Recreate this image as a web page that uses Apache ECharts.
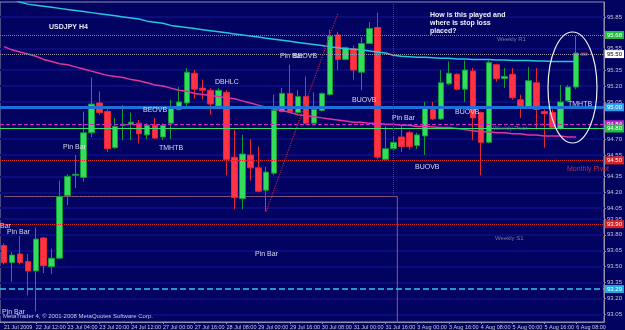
<!DOCTYPE html>
<html><head><meta charset="utf-8">
<script src="https://cdn.jsdelivr.net/npm/echarts@6/dist/echarts.min.js"></script>
<style>html,body{margin:0;padding:0;background:#020260;}#c{width:625px;height:330px;}</style>
</head><body><div id="c"></div>
<script>
const categories = [
"21 Jul 2009","22 Jul 00:00","22 Jul 04:00","22 Jul 08:00",
"22 Jul 12:00","22 Jul 16:00","22 Jul 20:00","23 Jul 00:00",
"23 Jul 04:00","23 Jul 08:00","23 Jul 12:00","23 Jul 16:00",
"23 Jul 20:00","24 Jul 00:00","24 Jul 04:00","24 Jul 08:00",
"24 Jul 12:00","24 Jul 16:00","24 Jul 20:00","26 Jul 20:00",
"27 Jul 00:00","27 Jul 04:00","27 Jul 08:00","27 Jul 12:00",
"27 Jul 16:00","27 Jul 20:00","28 Jul 00:00","28 Jul 04:00",
"28 Jul 08:00","28 Jul 12:00","28 Jul 16:00","28 Jul 20:00",
"29 Jul 00:00","29 Jul 04:00","29 Jul 08:00","29 Jul 12:00",
"29 Jul 16:00","29 Jul 20:00","30 Jul 00:00","30 Jul 04:00",
"30 Jul 08:00","30 Jul 12:00","30 Jul 16:00","30 Jul 20:00",
"31 Jul 00:00","31 Jul 04:00","31 Jul 08:00","31 Jul 12:00",
"31 Jul 16:00","31 Jul 20:00","2 Aug 16:00","2 Aug 20:00",
"3 Aug 00:00","3 Aug 04:00","3 Aug 08:00","3 Aug 12:00",
"3 Aug 16:00","3 Aug 20:00","4 Aug 00:00","4 Aug 04:00",
"4 Aug 08:00","4 Aug 12:00","4 Aug 16:00","4 Aug 20:00",
"5 Aug 00:00","5 Aug 04:00","5 Aug 08:00","5 Aug 12:00",
"5 Aug 16:00","5 Aug 20:00","6 Aug 00:00","6 Aug 04:00",
"6 Aug 08:00","6 Aug 12:00","6 Aug 16:00","6 Aug 20:00"];

const opens  = [93.70,93.54,93.62,93.55,93.46,93.77,93.50,93.58,94.17,94.36,94.34,94.76,95.04,94.96,94.62,94.83,94.84,94.85,94.74,94.83,94.72,94.85,94.98,95.04,95.32,95.18,95.16,95.01,95.14,94.53,94.14,94.55,94.43,94.22,94.38,94.96,95.13,94.95,95.10,94.85,94.97,95.12,95.68,95.45,95.55,95.33,95.60,95.75,94.51,94.61,94.72,94.76,94.64,94.73,94.98,94.89,95.22,95.31,95.17,95.34,94.95,94.67,95.40,95.27,95.31,95.07,95.00,95.23,94.96,94.95,94.80,95.06,95.19];
const closes = [93.54,93.61,93.54,93.46,93.76,93.51,93.58,94.16,94.35,94.37,94.76,95.03,94.95,94.61,94.82,94.84,94.86,94.75,94.83,94.71,94.83,94.99,95.05,95.33,95.17,95.16,95.03,95.16,94.51,94.15,94.56,94.43,94.21,94.39,94.97,95.13,94.96,95.10,94.85,94.98,95.13,95.67,95.45,95.56,95.35,95.60,95.74,94.53,94.61,94.67,94.63,94.63,94.74,95.00,94.89,95.23,95.32,95.17,95.35,94.90,94.67,95.42,95.27,95.29,95.09,95.00,95.25,94.98,94.94,94.81,95.05,95.19,95.51];
const lows   = [93.52,93.36,93.52,93.23,93.08,93.44,93.43,93.57,94.08,94.24,94.30,94.72,94.93,94.58,94.61,94.69,94.69,94.66,94.70,94.70,94.69,94.70,94.97,95.00,95.08,95.07,94.93,94.99,94.36,94.04,94.04,94.31,94.20,94.02,94.36,94.95,94.95,94.94,94.84,94.84,94.96,95.11,95.35,95.44,95.26,95.16,95.60,94.51,94.50,94.60,94.58,94.60,94.61,94.55,94.88,94.88,95.21,95.16,95.05,94.69,94.36,94.66,95.24,95.18,95.07,94.90,94.99,94.79,94.62,94.80,94.79,95.05,95.17];
const highs  = [93.72,93.64,93.79,93.62,93.87,93.78,93.67,94.31,94.37,94.55,94.96,95.28,95.15,94.98,94.90,95.02,94.95,94.88,94.85,94.90,94.85,95.07,95.19,95.37,95.35,95.26,95.18,95.18,95.16,94.79,94.74,94.70,94.63,94.44,95.12,95.18,95.40,95.16,95.29,95.14,95.14,95.73,95.71,95.57,95.58,95.66,95.80,95.89,94.82,94.72,94.83,94.78,94.76,95.05,95.05,95.35,95.43,95.32,95.44,95.37,94.96,95.44,95.41,95.37,95.37,95.12,95.38,95.37,94.98,94.98,95.21,95.21,95.67];

const maCyan = [96.05,96.02,95.99,95.97,95.96,95.95,95.94,95.93,95.92,95.91,95.90,95.89,95.88,95.87,95.86,95.85,95.84,95.83,95.81,95.80,95.79,95.77,95.76,95.75,95.74,95.73,95.72,95.71,95.70,95.69,95.68,95.67,95.66,95.65,95.64,95.63,95.62,95.61,95.60,95.59,95.58,95.57,95.56,95.55,95.545,95.54,95.53,95.52,95.51,95.49,95.48,95.475,95.47,95.47,95.465,95.46,95.46,95.455,95.455,95.45,95.45,95.45,95.445,95.445,95.44,95.44,95.44,95.435,95.435,95.43,95.43,95.43,95.43];
const maPink = [95.57,95.54,95.52,95.50,95.48,95.45,95.43,95.41,95.40,95.38,95.36,95.34,95.32,95.30,95.29,95.28,95.26,95.25,95.23,95.21,95.20,95.18,95.16,95.15,95.13,95.12,95.11,95.10,95.09,95.08,95.06,95.04,95.02,95.00,94.98,94.97,94.95,94.93,94.92,94.91,94.90,94.89,94.88,94.87,94.86,94.86,94.85,94.85,94.84,94.84,94.83,94.83,94.82,94.82,94.815,94.81,94.81,94.80,94.79,94.78,94.77,94.77,94.76,94.76,94.75,94.75,94.74,94.74,94.73,94.73,94.73,94.72,94.72];
const stepLevel = [94.16,94.16,94.16,94.16,94.16,94.16,94.16,94.16,94.16,94.16,94.16,94.16,94.16,94.16,94.16,94.16,94.16,94.16,94.16,94.16,94.16,94.16,94.16,94.16,94.16,94.16,94.16,94.16,94.16,94.16,94.16,94.16,94.16,94.16,94.16,94.16,94.16,94.16,94.16,94.16,94.16,94.16,94.16,94.16,94.16,94.16,94.16,94.16,94.16,94.16,92.50];
const askMarker = [[73, 95.50]];

const yTickLabels = [93.05,93.20,93.35,93.50,93.65,93.80,93.95,94.05,94.20,94.35,94.55,94.70,95.05,95.20,95.35,95.55,95.85];
const levelValues = [95.68, 95.50, 95.00, 94.84, 94.80, 94.50, 93.90, 93.29];
const trendLine = [[33, 94.02], [42, 95.88]];
const weekSeparator = [[49, 95.99], [49, 94.16]];

const levelStyles = [
  {color:'#8a8aa8', type:'dotted', width:1, box:'#22c040', text:'#ffffff'},
  {color:'#9a9ab0', type:'dotted', width:1, box:'#ffffff', text:'#000000'},
  {color:'#1f6fd8', type:'solid',  width:3, box:'#2aa0f0', text:'#ffffff'},
  {color:'#d020d0', type:'dashed', width:1, box:'#c020d0', text:'#ffffff'},
  {color:'#30e070', type:'solid',  width:1, box:'#22c040', text:'#ffffff'},
  {color:'#e02030', type:'dotted', width:1, box:'#e02020', text:'#ffffff'},
  {color:'#d02030', type:'dotted', width:1, box:'#e02020', text:'#ffffff'},
  {color:'#30c8f0', type:'dashed', width:1.5, box:'#20a8e0', text:'#ffffff'}
];

const candleData = opens.map((o, i) => [o, closes[i], lows[i], highs[i]]);
const FONT = 'Liberation Sans, Arial, sans-serif';

const levelLines = levelValues.map((v, i) => ({
  yAxis: v,
  lineStyle: {color: levelStyles[i].color, type: levelStyles[i].type, width: levelStyles[i].width},
  label: {show: true, position: 'end', distance: 1, formatter: () => v.toFixed(2),
    backgroundColor: levelStyles[i].box, color: levelStyles[i].text,
    fontSize: 6, fontFamily: FONT, padding: [1, 2, 0, 2], lineHeight: 7}
}));

const chart = echarts.init(document.getElementById('c'), null, {renderer: 'canvas'});

function txt(x, y, s, color, size, bold) {
  return {type: 'text', x: x, y: y, z: 50, silent: true,
    style: {text: s, fill: color, font: (bold ? 'bold ' : '') + size + 'px ' + FONT,
      textAlign: 'left', textVerticalAlign: 'middle'}};
}
const lbl = '#d8d8ea';

chart.setOption({
  animation: false,
  backgroundColor: '#020260',
  grid: {left: -2, right: 18, top: 2, bottom: 8, show: true, backgroundColor: '#020260', borderColor: '#9090a8', borderWidth: 1},
  xAxis: {
    type: 'category', data: categories, boundaryGap: true,
    axisLine: {lineStyle: {color: '#9090a8'}},
    axisTick: {show: true, interval: 3, length: 2, alignWithLabel: true, lineStyle: {color: '#9090a8'}},
    axisLabel: {interval: 3, align: 'left', color: '#c8c8d8', fontSize: 5.5, fontFamily: FONT, margin: 2,
      showMinLabel: true, hideOverlap: false},
    splitLine: {show: false}
  },
  yAxis: {
    type: 'value', position: 'right', min: 92.98, max: 95.99, scale: true,
    axisLine: {show: true, lineStyle: {color: '#9090a8'}},
    axisTick: {show: true, length: 2, customValues: yTickLabels, lineStyle: {color: '#9090a8'}},
    axisLabel: {customValues: yTickLabels, color: '#c8c8d8', fontSize: 6, fontFamily: FONT, margin: 3,
      formatter: v => v.toFixed(2)},
    splitLine: {show: true, lineStyle: {color: '#0c0c7c', width: 2}}
  },
  series: [
    {type: 'line', data: stepLevel, step: 'middle', symbol: 'none', z: 1,
      lineStyle: {color: '#8a5a7a', width: 1}},
    {type: 'candlestick', data: candleData, barWidth: 6, z: 2,
      itemStyle: {color: '#33dd5a', color0: '#ff3344', borderColor: '#0f9a3a', borderColor0: '#e82535', borderWidth: 1},
      markLine: {silent: true, symbol: ['none', 'none'], animation: false,
        data: levelLines.concat([
          [{coord: trendLine[0], lineStyle: {color: '#c02040', type: 'dotted', width: 1.2}, label: {show: false}},
           {coord: trendLine[1]}],
          [{coord: weekSeparator[0], lineStyle: {color: '#a02040', type: 'dotted', width: 1}, label: {show: false}},
           {coord: weekSeparator[1]}]
        ])}
    },
    {type: 'line', data: maPink, symbol: 'none', z: 3, lineStyle: {color: '#e0359a', width: 1.5}},
    {type: 'line', data: maCyan, symbol: 'none', z: 3, lineStyle: {color: '#22c8e0', width: 1.5}},
    {type: 'scatter', data: askMarker, symbol: 'rect', symbolSize: [7, 3], z: 4, itemStyle: {color: '#ff3030'}}
  ],
  graphic: [
    txt(49, 27, 'USDJPY H4', '#e8e8f4', 7, true),
    txt(430, 15.5, 'How is this played and', '#f0f0f8', 7, true),
    txt(430, 23.5, 'where is stop loss', '#f0f0f8', 7, true),
    txt(430, 31, 'placed?', '#f0f0f8', 7, true),
    txt(63, 147, 'Pin Bar', lbl, 7),
    txt(143, 110, 'BEOVB', lbl, 7),
    txt(159, 148, 'TMHTB', lbl, 7),
    txt(215, 82, 'DBHLC', lbl, 7),
    txt(280, 56, 'Pin Bar', lbl, 7),
    txt(293, 56, 'BEOVB', lbl, 7),
    txt(352, 100, 'BUOVB', lbl, 7),
    txt(392, 118, 'Pin Bar', lbl, 7),
    txt(455, 112, 'BUOVB', lbl, 7),
    txt(415, 167, 'BUOVB', lbl, 7),
    txt(568, 104, 'TMHTB', lbl, 7),
    txt(0, 226, 'Bar', lbl, 7),
    txt(7, 232, 'Pin Bar', lbl, 7),
    txt(255, 254, 'Pin Bar', lbl, 7),
    txt(2, 312, 'Pin Bar', lbl, 7),
    txt(3, 316, 'MetaTrader 4, © 2001-2008 MetaQuotes Software Corp.', '#c8c8d8', 6),
    txt(497, 39, 'Weekly R1', '#7a7a9c', 6),
    txt(493, 128, 'Weekly Pivot', '#7a7a9c', 6),
    txt(567, 169, 'Monthly Pivot', '#b03048', 7),
    txt(495, 238, 'Weekly S1', '#7a7a9c', 6),
    {type: 'ellipse', z: 60, silent: true, shape: {cx: 572.5, cy: 87.5, rx: 24.5, ry: 55.5},
      style: {fill: 'none', stroke: '#f0f0f0', lineWidth: 1.2}}
  ]
});
</script></body></html>
